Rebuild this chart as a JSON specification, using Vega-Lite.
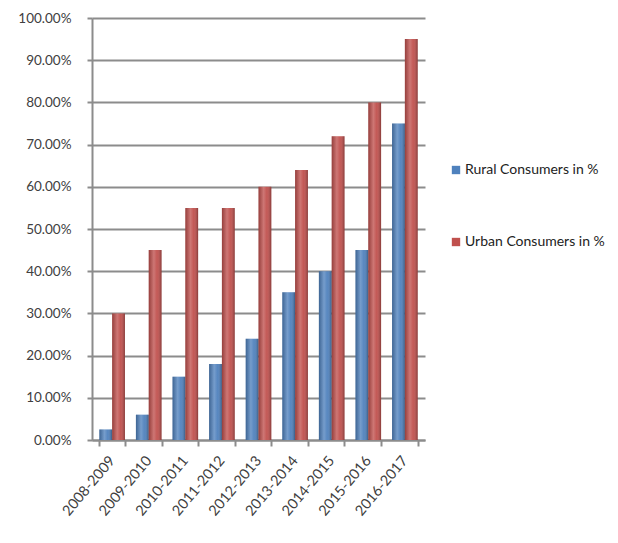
{
  "$schema": "https://vega.github.io/schema/vega-lite/v6.json",
  "autosize": "none",
  "width": 333,
  "height": 422,
  "padding": {"left": 92, "top": 18, "right": 193, "bottom": 103},
  "background": "white",
  "config": {
    "view": {"stroke": null},
    "font": "Lato",
    "axis": {"labelFont": "Lato", "labelColor": "#404040", "labelFontSize": 13.5}
  },
  "data": {
    "values": [
      {"year": "2008-2009", "series": "Rural Consumers in %", "share": 0.025},
      {"year": "2009-2010", "series": "Rural Consumers in %", "share": 0.06},
      {"year": "2010-2011", "series": "Rural Consumers in %", "share": 0.15},
      {"year": "2011-2012", "series": "Rural Consumers in %", "share": 0.18},
      {"year": "2012-2013", "series": "Rural Consumers in %", "share": 0.24},
      {"year": "2013-2014", "series": "Rural Consumers in %", "share": 0.35},
      {"year": "2014-2015", "series": "Rural Consumers in %", "share": 0.40},
      {"year": "2015-2016", "series": "Rural Consumers in %", "share": 0.45},
      {"year": "2016-2017", "series": "Rural Consumers in %", "share": 0.75},
      {"year": "2008-2009", "series": "Urban Consumers in %", "share": 0.30},
      {"year": "2009-2010", "series": "Urban Consumers in %", "share": 0.45},
      {"year": "2010-2011", "series": "Urban Consumers in %", "share": 0.55},
      {"year": "2011-2012", "series": "Urban Consumers in %", "share": 0.55},
      {"year": "2012-2013", "series": "Urban Consumers in %", "share": 0.60},
      {"year": "2013-2014", "series": "Urban Consumers in %", "share": 0.64},
      {"year": "2014-2015", "series": "Urban Consumers in %", "share": 0.72},
      {"year": "2015-2016", "series": "Urban Consumers in %", "share": 0.80},
      {"year": "2016-2017", "series": "Urban Consumers in %", "share": 0.95}
    ]
  },
  "encoding": {
    "x": {
      "field": "year",
      "type": "nominal",
      "sort": null,
      "title": null,
      "scale": {"paddingInner": 0.3, "paddingOuter": 0.2},
      "axis": {
        "labelAngle": -50,
        "labelAlign": "right",
        "labelBaseline": "middle",
        "labelFontSize": 14.5,
        "labelPadding": 12,
        "tickBand": "extent",
        "tickSize": 6,
        "tickColor": "#8c8c8c",
        "tickWidth": 2,
        "domainColor": "#8c8c8c",
        "domainWidth": 2
      }
    },
    "xOffset": {"field": "series", "type": "nominal"},
    "y": {
      "field": "share",
      "type": "quantitative",
      "title": null,
      "scale": {"domain": [0, 1], "nice": false},
      "axis": {
        "values": [0, 0.1, 0.2, 0.3, 0.4, 0.5, 0.6, 0.7, 0.8, 0.9, 1],
        "format": ".2%",
        "labelPadding": 16,
        "tickSize": 5,
        "tickColor": "#8c8c8c",
        "tickWidth": 2,
        "domainColor": "#8c8c8c",
        "domainWidth": 2,
        "gridColor": "#8c8c8c",
        "gridWidth": 2
      }
    }
  },
  "layer": [
    {
      "mark": {"type": "bar"},
      "encoding": {
        "color": {
          "field": "series",
          "type": "nominal",
          "scale": {"range": ["#4F81BD", "#C0504D"]},
          "legend": {
            "title": null,
            "orient": "none",
            "legendX": 357,
            "legendY": 145,
            "symbolType": "square",
            "symbolSize": 70,
            "symbolStrokeWidth": 0,
            "labelFont": "Lato",
            "labelFontSize": 14,
            "labelColor": "#222222",
            "labelOffset": 2,
            "rowPadding": 58
          }
        }
      }
    },
    {
      "mark": {
        "type": "bar",
        "fill": {
          "gradient": "linear",
          "x1": 0, "y1": 0, "x2": 1, "y2": 0,
          "stops": [
            {"offset": 0, "color": "rgba(0,0,0,0.22)"},
            {"offset": 0.4, "color": "rgba(255,255,255,0.22)"},
            {"offset": 0.65, "color": "rgba(255,255,255,0.05)"},
            {"offset": 1, "color": "rgba(0,0,0,0.3)"}
          ]
        }
      },
      "encoding": {}
    }
  ]
}
